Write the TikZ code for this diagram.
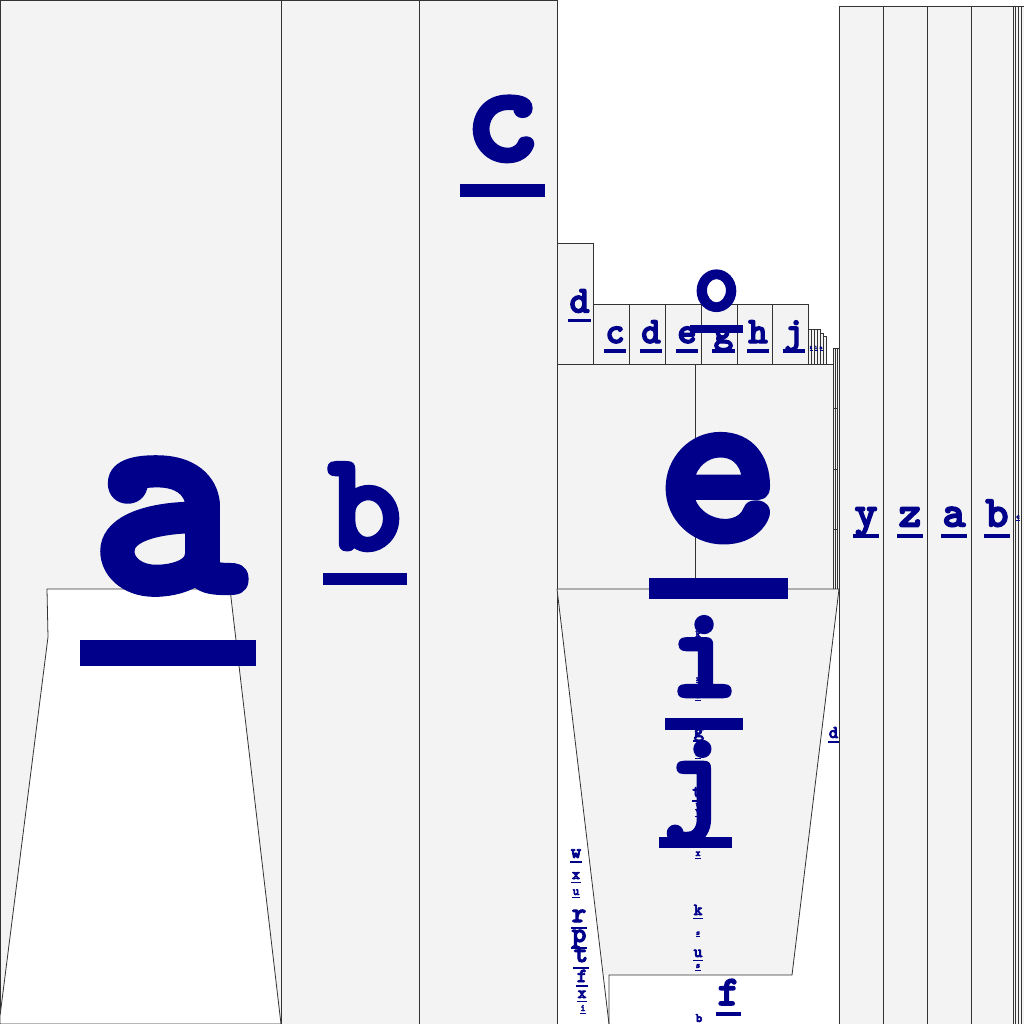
\documentclass[tikz,border=0pt]{standalone}
\definecolor{navy}{HTML}{00008B}
\definecolor{cell}{HTML}{F3F3F3}
\definecolor{edge}{HTML}{333333}
\tikzset{
  cellbox/.style={fill=cell,draw=edge,line width=0.8pt},
  whitebox/.style={fill=white,draw=edge,line width=0.8pt},
  edgeline/.style={draw=edge,line width=0.8pt},
  lett/.style={text=navy,inner sep=0pt,outer sep=0pt,anchor=base}
}
% name, cx, baseline, size, letter
\newcommand\ulet[5]{%
  \pgfmathsetmacro\strokew{0.035*#4}%
  \node[lett,font=\fontsize{#4pt}{#4pt}\selectfont\ttfamily\bfseries] (#1) at (#2,#3)
    {\special{pdf:literal direct 2 Tr \strokew\space w 1 j 0 0 0.545 RG}#5\special{pdf:literal direct 0 Tr}};
  \fill[navy] ({#2-0.3*#4},{#3+0.17*#4}) rectangle ({#2+0.3*#4},{#3+0.26*#4});
}
\begin{document}
\begin{tikzpicture}[x=1pt,y=-1pt]
\useasboundingbox (0,0) rectangle (1024,1024);
\fill[white] (0,0) rectangle (1024,1024);
% left columns
\draw[cellbox] (0,0) rectangle (281,1024);
\draw[cellbox] (281,0) rectangle (419,1024);
\draw[cellbox] (419,0) rectangle (557,1024);
\draw[whitebox] (47,589) -- (230,589) -- (281,1024) -- (0,1024) -- (0,1016) -- (48,637) -- cycle;
% middle upper boxes
\draw[cellbox] (557,243) rectangle (593,364);
\foreach \xa/\xb in {593/629,629/665,665/701,701/737,737/772,772/808}
  \draw[cellbox] (\xa,304) rectangle (\xb,364);
\foreach \xa/\xb in {808/811,811/814,814/817,817/820}
  \draw[cellbox,line width=0.5pt] (\xa,329) rectangle (\xb,364);
\draw[cellbox,line width=0.5pt] (820,333) rectangle (823,364);
\draw[cellbox,line width=0.5pt] (823,336) rectangle (826,364);
\draw[cellbox] (557,364) rectangle (695,589);
\draw[cellbox] (695,364) rectangle (833,589);
\foreach \xa/\xb in {833/835,835/837,837/839}
  \draw[cellbox,line width=0.5pt] (\xa,348) rectangle (\xb,589);
\foreach \yy in {408,469,529}
  \draw[edgeline] (833,\yy) -- (838,\yy);
% trapezoid
\fill[cell] (557,589) -- (839,589) -- (792,975) -- (604,975) -- cycle;
\draw[edgeline] (557,589) -- (609,1024);
\draw[edgeline] (557,589) -- (839,589) -- (792,975) -- (609,975) -- (609,1024);
% right columns
\foreach \xa/\xb in {839/883,883/927,927/971,971/1013}
  \draw[cellbox] (\xa,6) rectangle (\xb,1024);
\foreach \xa/\xb in {1013/1015.5,1015.5/1018.5,1018.5/1021,1021/1024}
  \draw[cellbox,line width=0.5pt] (\xa,6) rectangle (\xb,1024);
% letters
\ulet{la}{168}{590}{292}{a}
\ulet{lb}{365}{549}{140}{b}
\ulet{lc}{502.5}{160}{142}{c}
\ulet{ld}{579.5}{312.5}{38}{d}
\ulet{rc}{615}{343}{37}{c}
\ulet{rd}{651}{343}{37}{d}
\ulet{re}{687}{343}{37}{e}
\ulet{rg}{723.5}{343}{37}{g}
\ulet{rh}{758}{343}{37}{h}
\ulet{rj}{794}{343}{37}{j}
\ulet{lo}{716.5}{310}{88}{o}
\ulet{tk}{811}{349}{5}{k}
\ulet{tl}{816}{349}{5}{l}
\ulet{tm}{821}{349}{5}{m}
\ulet{le}{718.5}{539}{232}{e}
\ulet{sk}{698}{637}{10}{k}
\ulet{sz}{698}{681}{8}{z}
\ulet{si}{698}{698}{9}{i}
\ulet{li}{704}{696}{130}{i}
\ulet{sg}{699}{737}{20}{g}
\ulet{sr}{698}{756}{10}{r}
\ulet{lj}{695.5}{816}{122}{j}
\ulet{st}{697}{797}{18}{t}
\ulet{su}{698}{807}{9}{u}
\ulet{sv}{698}{814}{9}{v}
\ulet{sx}{698}{856}{10}{x}
\ulet{kk}{698}{915}{17}{k}
\ulet{ks}{698}{935}{8}{s}
\ulet{ku}{698}{957}{17}{u}
\ulet{ks2}{698}{968}{9}{s}
\ulet{kb}{699}{1022}{13}{b}
\ulet{lf}{728.5}{1005}{42}{f}
\ulet{sd}{833.5}{738}{18}{d}
\ulet{cy}{866}{526.5}{44}{y}
\ulet{cz}{910}{526.5}{44}{z}
\ulet{ca}{954}{526.5}{44}{a}
\ulet{cb}{997}{526.5}{44}{b}
\ulet{cc}{1018}{519}{8}{c}
\ulet{pw}{576}{858}{20}{w}
\ulet{px}{576}{879}{16}{x}
\ulet{pu}{576}{895}{13}{u}
\ulet{pr}{579}{922}{28}{r}
\ulet{pp}{579}{942}{28}{p}
\ulet{pt}{581}{962}{28}{t}
\ulet{pf}{582}{982}{20}{f}
\ulet{px2}{582}{998}{17}{x}
\ulet{pi}{583}{1011}{10}{i}
\end{tikzpicture}
\end{document}
